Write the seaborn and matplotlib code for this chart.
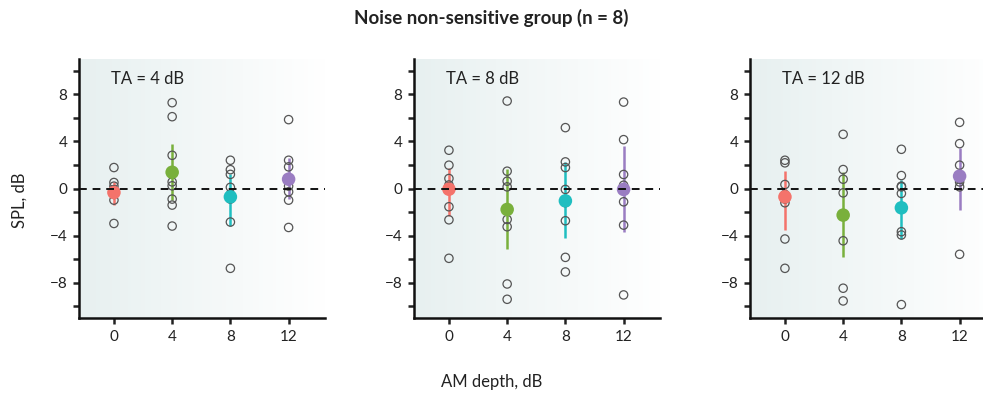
import numpy as np
import pandas as pd
import matplotlib
matplotlib.use("Agg")
import matplotlib.pyplot as plt
from matplotlib.colors import LinearSegmentedColormap
import seaborn as sns

# AM depths (x categories) and target-amplitude conditions (panels)
am_depth = [0, 4, 8, 12]
ta_levels = [4, 8, 12]

# Individual listener SPL values (dB), 8 per AM depth, one list per panel
ta4_points = {
    0: [1.78, 0.51, 0.20, -0.10, -0.30, -0.50, -0.99, -2.97],
    4: [7.29, 6.10, 2.82, 0.56, 0.23, -0.90, -1.41, -3.19],
    8: [2.40, 1.60, 1.20, 0.10, -0.50, -0.90, -2.85, -6.78],
    12: [5.85, 2.40, 1.84, 0.80, 0.20, -0.28, -0.99, -3.31],
}
ta8_points = {
    0: [3.25, 1.98, 0.85, 0.30, 0.00, -1.55, -2.66, -5.93],
    4: [7.43, 1.47, 0.62, 0.14, -2.63, -3.25, -8.11, -9.41],
    8: [5.17, 2.26, 1.78, -0.08, -1.20, -2.74, -5.85, -7.09],
    12: [7.34, 4.15, 1.19, 0.28, -0.08, -1.13, -3.11, -9.04],
}
ta12_points = {
    0: [2.40, 2.18, 0.34, -0.50, -0.90, -1.21, -4.29, -6.78],
    4: [4.60, 1.61, 0.79, -0.37, -2.25, -4.44, -8.47, -9.55],
    8: [3.33, 1.10, 0.20, 0.14, -0.42, -3.67, -3.95, -9.86],
    12: [5.62, 3.81, 1.98, 1.07, 0.80, 0.56, 0.14, -5.59],
}

# Group means and 95% CI limits per AM depth
ta4_mean = [-0.34, 1.38, -0.71, 0.79]
ta4_lo = [-1.44, -0.99, -3.16, -0.88]
ta4_hi = [0.51, 3.81, 1.21, 2.63]

ta8_mean = [-0.06, -1.78, -1.05, -0.08]
ta8_lo = [-2.32, -5.14, -4.18, -3.67]
ta8_hi = [1.78, 1.69, 2.26, 3.59]

ta12_mean = [-0.71, -2.26, -1.64, 1.05]
ta12_lo = [-3.53, -5.79, -4.32, -1.84]
ta12_hi = [1.47, 1.41, 0.76, 3.45]

depth_colors = ["#F4736B", "#79B03C", "#1FBEC0", "#9A7DC2"]

panels = [
    (4, ta4_points, ta4_mean, ta4_lo, ta4_hi),
    (8, ta8_points, ta8_mean, ta8_lo, ta8_hi),
    (12, ta12_points, ta12_mean, ta12_lo, ta12_hi),
]

sns.set_style("ticks")
plt.rcParams["font.family"] = ["Lato", "DejaVu Sans"]

W, H = 983, 398
fig = plt.figure(figsize=(W / 100, H / 100), dpi=100)

ax_lefts = [79, 414, 750]
ax_w, ax_top, ax_bot = 246, 59, 318

bg_cmap = LinearSegmentedColormap.from_list("bg", ["#E7F0F0", "#FFFFFF"])
palette = dict(zip(am_depth, depth_colors))

for left, (ta, pts, mean, lo, hi) in zip(ax_lefts, panels):
    ax = fig.add_axes([left / W, 1 - ax_bot / H, ax_w / W, (ax_bot - ax_top) / H])

    # soft horizontal gradient behind the data
    grad = np.linspace(0, 1, 256).reshape(1, -1)
    ax.imshow(grad, cmap=bg_cmap, aspect="auto", extent=[0, 1, 0, 1],
              transform=ax.transAxes, zorder=0)

    pts_df = pd.DataFrame(
        [(d, v) for d in am_depth for v in pts[d]], columns=["depth", "spl"]
    )
    mean_df = pd.DataFrame({"depth": am_depth, "spl": mean, "lo": lo, "hi": hi})

    # confidence intervals
    for d, l, h in zip(mean_df["depth"], mean_df["lo"], mean_df["hi"]):
        ax.plot([d, d], [l, h], color=palette[d], lw=1.8, zorder=2,
                solid_capstyle="butt")

    # individual listeners
    sns.scatterplot(data=pts_df, x="depth", y="spl", ax=ax, s=36,
                    facecolor="none", edgecolor="#555555", linewidth=0.9,
                    zorder=3, legend=False)

    # group means
    sns.scatterplot(data=mean_df, x="depth", y="spl", hue="depth",
                    palette=palette, ax=ax, s=95, linewidth=0, zorder=4,
                    legend=False)

    ax.axhline(0, color="#111111", lw=1.4, ls=(0, (4, 3)), zorder=5)

    ax.set_xlim(-2.4, 14.5)
    ax.set_ylim(-11, 11)
    ax.set_xticks(am_depth)
    ax.set_xticklabels([str(d) for d in am_depth])
    ax.set_yticks([-10, -8, -6, -4, -2, 0, 2, 4, 6, 8, 10])
    ax.set_yticklabels(["", "\u22128", "", "\u22124", "", "0", "", "4", "", "8", ""])
    ax.tick_params(axis="both", direction="out", length=4.5, width=1.8,
                   color="#222222", labelsize=11, pad=4, labelcolor="#222222")
    for side in ["left", "bottom"]:
        ax.spines[side].set_linewidth(1.8)
        ax.spines[side].set_color("#111111")
    for side in ["top", "right"]:
        ax.spines[side].set_visible(False)
    ax.set_xlabel("")
    ax.set_ylabel("")

    ax.text(0.13, 0.955, f"TA = {ta} dB", transform=ax.transAxes,
            ha="left", va="top", fontsize=12, color="#222222")

fig.text(0.5, 1 - 18 / H, "Noise non-sensitive group (n = 8)", ha="center",
         va="center", fontsize=13.5, fontweight="bold", color="#222222")
fig.text(0.5, 1 - 382 / H, "AM depth, dB", ha="center", va="center",
         fontsize=12, color="#222222")
fig.text(20 / W, 1 - 200 / H, "SPL, dB", ha="center", va="center",
         rotation=90, fontsize=12, color="#222222")

fig.savefig("out.png", dpi=100)
